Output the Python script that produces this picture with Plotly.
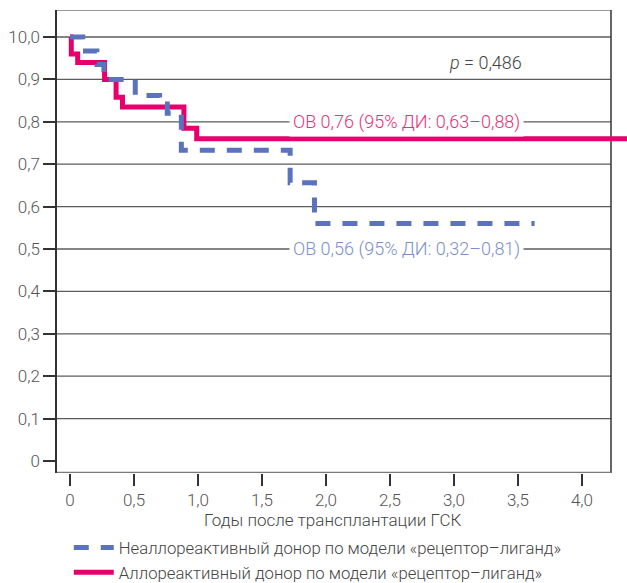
import plotly.graph_objects as go

# Kaplan–Meier overall survival, step curves (years after HSCT)
years_nonallo = [0, 0.10, 0.21, 0.265, 0.51, 0.70, 0.76, 0.87, 1.72, 1.91, 3.63]
os_nonallo = [1.0, 0.967, 0.935, 0.90, 0.862, 0.842, 0.82, 0.733, 0.656, 0.56, 0.56]

years_allo = [0, 0.01, 0.06, 0.27, 0.36, 0.41, 0.89, 0.99, 4.40]
os_allo = [1.0, 0.96, 0.94, 0.90, 0.858, 0.835, 0.785, 0.76, 0.76]

name_nonallo = "Неаллореактивный донор по модели «рецептор–лиганд»"
name_allo = "Аллореактивный донор по модели «рецептор–лиганд»"

label_allo = "ОВ 0,76 (95% ДИ: 0,63–0,88)"
label_nonallo = "ОВ 0,56 (95% ДИ: 0,32–0,81)"
label_p = "<i>p</i> = 0,486"
x_title = "Годы после трансплантации ГСК"

x_tickvals = [0, 0.5, 1.0, 1.5, 2.0, 2.5, 3.0, 3.5, 4.0]
x_ticktext = ["0", "0,5", "1,0", "1,5", "2,0", "2,5", "3,0", "3,5", "4,0"]
y_tickvals = [0, 0.1, 0.2, 0.3, 0.4, 0.5, 0.6, 0.7, 0.8, 0.9, 1.0]
y_ticktext = ["0", "0,1", "0,2", "0,3", "0,4", "0,5", "0,6", "0,7", "0,8", "0,9", "10,0"]
grid_levels = [0.1, 0.2, 0.3, 0.4, 0.5, 0.6, 0.7, 0.8, 0.9, 1.0]

RED = "#e6006e"
BLUE = "#5b72bd"
RED_TXT = "#e8327c"
BLUE_TXT = "#7d90cc"
GRID = "#5c5c5c"
FONT = "Roboto"

X_MIN, X_BOX, X_MAX = -0.1016, 4.227, 4.352
Y_MIN, Y_MAX = -0.0283, 1.0637

fig = go.Figure()

fig.add_trace(go.Scatter(
    x=years_allo, y=os_allo, mode="lines", name=name_allo,
    line=dict(color=RED, width=5, shape="hv"), legendrank=2,
))
fig.add_trace(go.Scatter(
    x=years_nonallo, y=os_nonallo, mode="lines", name=name_nonallo,
    line=dict(color=BLUE, width=5, shape="hv", dash="15px,12px"), legendrank=1,
))

shapes = []
for g in grid_levels:
    shapes.append(dict(type="line", xref="x", yref="y", x0=X_MIN, x1=X_BOX, y0=g, y1=g,
                       line=dict(color=GRID, width=1.3), layer="below"))
# frame: top, right, bottom
shapes.append(dict(type="line", xref="x", yref="y", x0=X_MIN, x1=X_BOX, y0=Y_MAX, y1=Y_MAX,
                   line=dict(color="#777777", width=1.5), layer="below"))
shapes.append(dict(type="line", xref="x", yref="y", x0=X_BOX, x1=X_BOX, y0=Y_MIN, y1=Y_MAX,
                   line=dict(color="#333333", width=1.5), layer="below"))
shapes.append(dict(type="line", xref="x", yref="y", x0=X_MIN, x1=X_BOX, y0=Y_MIN, y1=Y_MIN,
                   line=dict(color="#7a7a7a", width=2.5), layer="below"))

annotations = [
    dict(x=3.55, y=0.8, xref="x", yref="y", text=label_allo, showarrow=False,
         xanchor="right", yanchor="middle", bgcolor="white", borderpad=3,
         font=dict(family=FONT, size=18, color=RED_TXT, weight=300)),
    dict(x=3.55, y=0.5, xref="x", yref="y", text=label_nonallo, showarrow=False,
         xanchor="right", yanchor="middle", bgcolor="white", borderpad=3,
         font=dict(family=FONT, size=18, color=BLUE_TXT, weight=300)),
    dict(x=3.55, y=0.94, xref="x", yref="y", text=label_p, showarrow=False,
         xanchor="right", yanchor="middle",
         font=dict(family=FONT, size=18, color="#444444", weight=300)),
    # x-axis title
    dict(x=0.484, y=-0.101, xref="paper", yref="paper", text=x_title, showarrow=False,
         xanchor="center", yanchor="middle",
         font=dict(family=FONT, size=17, color="#444444", weight=300)),
]

fig.update_layout(
    width=627, height=583,
    margin=dict(l=57, r=0, t=10, b=110, autoexpand=False),
    plot_bgcolor="white", paper_bgcolor="white",
    font=dict(family=FONT, size=17, color="#555555", weight=300),
    showlegend=True,
    legend=dict(orientation="v", x=0.4575, xanchor="center", y=-0.1235, yanchor="top",
                font=dict(family=FONT, size=16.7, color="#444444", weight=300),
                bgcolor="rgba(0,0,0,0)", itemwidth=40, tracegroupgap=0),
    shapes=shapes,
    annotations=annotations,
    xaxis=dict(range=[X_MIN, X_MAX], showgrid=False, zeroline=False, showline=False,
               automargin=False,
               tickvals=x_tickvals, ticktext=x_ticktext, ticks="outside", ticklen=12,
               tickwidth=1.5, tickcolor="#333333"),
    yaxis=dict(range=[Y_MIN, Y_MAX], showgrid=False, zeroline=False, showline=True,
               automargin=False, linecolor="#333333", linewidth=1.5,
               tickvals=y_tickvals, ticktext=y_ticktext, ticks="outside", ticklen=12,
               tickwidth=1.5, tickcolor="#333333"),
)

fig.write_html("out.html")
